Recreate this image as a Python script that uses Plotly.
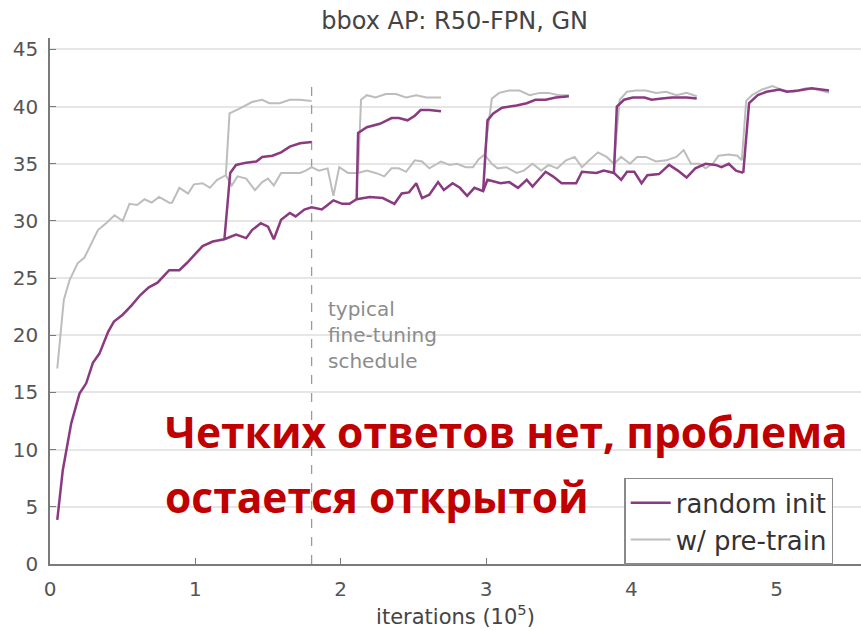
import plotly.graph_objects as go

# ---- training curves: bbox AP vs iterations (x in units of 1e5) ----
# random init: main schedule
RI_MAIN_X = [0.05, 0.088, 0.146, 0.203, 0.249, 0.295, 0.34, 0.40, 0.44, 0.50, 0.56, 0.62, 0.68, 0.74,
             0.82, 0.89, 0.94, 0.99, 1.05, 1.12, 1.20, 1.28, 1.35, 1.39, 1.45, 1.50, 1.54, 1.59, 1.65,
             1.69, 1.75, 1.80, 1.87, 1.91, 1.95, 2.01, 2.06, 2.11, 2.20, 2.29, 2.37, 2.42, 2.47, 2.52,
             2.56, 2.61, 2.67, 2.71, 2.77, 2.82, 2.87, 2.92, 2.98, 3.01, 3.10, 3.16, 3.22, 3.28, 3.32,
             3.41, 3.46, 3.52, 3.62, 3.66, 3.76, 3.81, 3.88, 3.93, 3.97, 4.02, 4.07, 4.11, 4.19, 4.26,
             4.32, 4.38, 4.44, 4.51, 4.58, 4.62, 4.67, 4.72, 4.77]
RI_MAIN_Y = [3.85, 8.2, 12.3, 14.9, 15.8, 17.6, 18.4, 20.3, 21.2, 21.8, 22.6, 23.5, 24.2, 24.6,
             25.7, 25.7, 26.3, 27.0, 27.8, 28.2, 28.4, 28.8, 28.5, 29.2, 29.8, 29.5, 28.4, 30.1, 30.7,
             30.4, 31.0, 31.2, 31.0, 31.4, 31.8, 31.5, 31.5, 31.9, 32.1, 32.0, 31.5, 32.4, 32.5, 33.3,
             32.0, 32.3, 33.4, 32.7, 33.3, 32.9, 32.2, 32.9, 32.6, 33.6, 33.3, 33.4, 32.9, 33.6, 33.0,
             34.3, 33.9, 33.3, 33.3, 34.3, 34.2, 34.4, 34.2, 33.6, 34.3, 34.3, 33.3, 34.0, 34.1, 34.9,
             34.4, 33.8, 34.6, 35.0, 34.9, 34.7, 35.0, 34.4, 34.2]

# random init: learning-rate-drop branches
RI_FT1_X = [1.20, 1.24, 1.28, 1.35, 1.42, 1.46, 1.53, 1.59, 1.65, 1.72, 1.80]
RI_FT1_Y = [28.4, 34.2, 34.9, 35.1, 35.2, 35.6, 35.7, 36.0, 36.5, 36.8, 36.9]
RI_FT2_X = [2.11, 2.12, 2.18, 2.27, 2.35, 2.40, 2.46, 2.51, 2.55, 2.61, 2.69]
RI_FT2_Y = [31.9, 37.7, 38.2, 38.5, 39.0, 39.0, 38.8, 39.2, 39.7, 39.7, 39.6]
RI_FT3_X = [2.98, 3.01, 3.05, 3.11, 3.21, 3.28, 3.34, 3.41, 3.48, 3.57]
RI_FT3_Y = [32.6, 38.8, 39.4, 39.9, 40.1, 40.3, 40.6, 40.6, 40.8, 40.9]
RI_FT4_X = [3.88, 3.90, 3.95, 4.01, 4.09, 4.14, 4.21, 4.28, 4.38, 4.45]
RI_FT4_Y = [34.2, 40.0, 40.6, 40.8, 40.8, 40.6, 40.7, 40.8, 40.8, 40.7]
RI_FT5_X = [4.77, 4.81, 4.87, 4.93, 5.02, 5.07, 5.15, 5.24, 5.36]
RI_FT5_Y = [34.2, 40.3, 41.0, 41.3, 41.5, 41.3, 41.4, 41.6, 41.4]

# w/ pre-train: main schedule
PT_MAIN_X = [0.05, 0.065, 0.095, 0.134, 0.19, 0.237, 0.283, 0.33, 0.386, 0.444, 0.50, 0.547, 0.60,
             0.65, 0.70, 0.75, 0.82, 0.84, 0.89, 0.95, 0.99, 1.05, 1.10, 1.15, 1.21, 1.25, 1.29, 1.35,
             1.41, 1.46, 1.50, 1.54, 1.59, 1.65, 1.72, 1.76, 1.80, 1.85, 1.91, 1.95, 1.99, 2.05, 2.12,
             2.18, 2.24, 2.30, 2.35, 2.40, 2.45, 2.51, 2.56, 2.61, 2.69, 2.75, 2.80, 2.86, 2.91, 2.95,
             2.99, 3.04, 3.08, 3.14, 3.21, 3.26, 3.32, 3.38, 3.43, 3.49, 3.55, 3.61, 3.66, 3.71, 3.77,
             3.83, 3.88, 3.93, 3.99, 4.04, 4.10, 4.17, 4.24, 4.31, 4.36, 4.41, 4.47, 4.51, 4.56, 4.60,
             4.67, 4.73, 4.76]
PT_MAIN_Y = [17.1, 19.3, 23.1, 24.8, 26.3, 26.8, 28.0, 29.2, 29.8, 30.5, 30.0, 31.5, 31.4,
             31.9, 31.6, 32.1, 31.6, 31.6, 32.9, 32.4, 33.2, 33.3, 32.9, 33.6, 34.0, 33.1, 33.9, 33.7,
             32.7, 33.4, 33.7, 33.1, 34.2, 34.2, 34.2, 34.4, 34.7, 34.4, 34.6, 32.2, 34.7, 34.2, 34.2,
             34.4, 34.2, 33.9, 34.6, 34.6, 34.3, 35.3, 35.2, 34.6, 35.2, 34.9, 35.0, 34.7, 34.7, 35.4,
             35.8, 35.0, 34.6, 34.7, 34.2, 34.4, 35.0, 34.4, 34.9, 34.6, 35.3, 35.6, 34.7, 35.3, 36.0,
             35.6, 35.0, 35.6, 35.0, 35.6, 35.6, 35.2, 35.3, 35.6, 36.2, 35.0, 35.0, 34.6, 35.0, 35.7,
             35.8, 35.7, 35.3]

# w/ pre-train: learning-rate-drop branches
PT_FT1_X = [1.21, 1.235, 1.30, 1.39, 1.46, 1.51, 1.58, 1.65, 1.72, 1.80]
PT_FT1_Y = [34.0, 39.4, 39.8, 40.4, 40.6, 40.3, 40.3, 40.6, 40.6, 40.5]
PT_FT2_X = [2.12, 2.14, 2.18, 2.24, 2.31, 2.38, 2.45, 2.52, 2.59, 2.69]
PT_FT2_Y = [34.2, 40.6, 41.0, 40.8, 41.1, 41.1, 40.8, 41.0, 40.8, 40.8]
PT_FT3_X = [2.99, 3.04, 3.09, 3.16, 3.23, 3.30, 3.37, 3.43, 3.50, 3.57]
PT_FT3_Y = [35.8, 40.7, 41.2, 41.4, 41.4, 41.0, 41.2, 41.2, 41.0, 41.0]
PT_FT4_X = [3.88, 3.92, 3.97, 4.03, 4.10, 4.17, 4.24, 4.31, 4.38, 4.45]
PT_FT4_Y = [35.0, 40.6, 41.3, 41.4, 41.4, 41.2, 41.3, 41.0, 41.2, 40.9]
PT_FT5_X = [4.76, 4.79, 4.83, 4.90, 4.97, 5.05, 5.12, 5.20, 5.28, 5.36]
PT_FT5_Y = [35.3, 40.5, 41.0, 41.5, 41.8, 41.4, 41.3, 41.6, 41.5, 41.2]

SCHEDULE_END = 1.80      # end of the typical fine-tuning schedule
SCHEDULE_TOP = 42.1
X_TICKS = [0, 1, 2, 3, 4, 5]
Y_TICKS = [0, 5, 10, 15, 20, 25, 30, 35, 40, 45]

TITLE = "bbox AP: R50-FPN, GN"
X_TITLE = "iterations (10<sup>5</sup>)"
SCHEDULE_NOTE = "typical<br>fine-tuning<br>schedule"
CAPTION_1 = "Четких ответов нет, проблема"
CAPTION_2 = "остается открытой"

PURPLE = "#8a3a80"
GRAY = "#bdbdbd"
FONT = "DejaVu Sans"


def join_segments(pairs):
    """Concatenate (xs, ys) runs with None gaps so one trace holds them all."""
    xs, ys = [], []
    for sx, sy in pairs:
        if xs:
            xs.append(None)
            ys.append(None)
        xs.extend(sx)
        ys.extend(sy)
    return xs, ys


pt_x, pt_y = join_segments([(PT_MAIN_X, PT_MAIN_Y), (PT_FT1_X, PT_FT1_Y), (PT_FT2_X, PT_FT2_Y),
                            (PT_FT3_X, PT_FT3_Y), (PT_FT4_X, PT_FT4_Y), (PT_FT5_X, PT_FT5_Y)])
ri_x, ri_y = join_segments([(RI_MAIN_X, RI_MAIN_Y), (RI_FT1_X, RI_FT1_Y), (RI_FT2_X, RI_FT2_Y),
                            (RI_FT3_X, RI_FT3_Y), (RI_FT4_X, RI_FT4_Y), (RI_FT5_X, RI_FT5_Y)])

fig = go.Figure()

# schedule marker (dashed vertical)
fig.add_trace(go.Scatter(x=[SCHEDULE_END, SCHEDULE_END], y=[0, SCHEDULE_TOP], mode="lines",
                         line=dict(color="#9a9a9a", width=1.3, dash="dash"),
                         showlegend=False, hoverinfo="skip"))

fig.add_trace(go.Scatter(x=pt_x, y=pt_y, mode="lines", name="w/ pre-train",
                         line=dict(color=GRAY, width=2), legendrank=2))
fig.add_trace(go.Scatter(x=ri_x, y=ri_y, mode="lines", name="random init",
                         line=dict(color=PURPLE, width=2.5), legendrank=1))

fig.add_annotation(x=SCHEDULE_END + 0.10, y=20.0, xref="x", yref="y", text=SCHEDULE_NOTE,
                   showarrow=False, xanchor="left", yanchor="middle", align="left",
                   font=dict(family=FONT, size=20, color="#8c8c8c"))

fig.add_annotation(x=0.139, y=0.251, xref="paper", yref="paper", text=CAPTION_1,
                   showarrow=False, xanchor="left", yanchor="middle",
                   font=dict(family="Open Sans", size=42.5, color="#c00000", weight="bold"))
fig.add_annotation(x=0.139, y=0.129, xref="paper", yref="paper", text=CAPTION_2,
                   showarrow=False, xanchor="left", yanchor="middle",
                   font=dict(family="Open Sans", size=42.5, color="#c00000", weight="bold"))

axis_common = dict(showline=True, linecolor="#7a7a7a", linewidth=1.5, ticks="inside", ticklen=6,
                   tickcolor="#7a7a7a", tickwidth=1.3, zeroline=False,
                   tickfont=dict(family=FONT, size=20, color="#555555"))

fig.update_xaxes(range=[0, 5.58], tickvals=X_TICKS, showgrid=False, ticklabelstandoff=6,
                 title=dict(text=X_TITLE, standoff=6, font=dict(family=FONT, size=21, color="#444444")),
                 **axis_common)
fig.update_yaxes(range=[0, 46], tickvals=Y_TICKS, showgrid=True, gridcolor="#e6e6e6", gridwidth=1.5,
                 ticklabelstandoff=6, **axis_common)

fig.update_layout(
    width=861, height=631,
    margin=dict(l=50, r=0, t=38, b=67),
    paper_bgcolor="white", plot_bgcolor="white",
    title=dict(text=TITLE, x=0.528, xanchor="center", y=0.968, yanchor="middle",
               font=dict(family=FONT, size=24, color="#444444")),
    legend=dict(x=0.708, y=0.164, xanchor="left", yanchor="top", bgcolor="white",
                bordercolor="#8a8a8a", borderwidth=1.5,
                font=dict(family=FONT, size=26, color="#333333"), tracegroupgap=0,
                itemwidth=40),
    showlegend=True,
)

fig.write_html("out.html")
